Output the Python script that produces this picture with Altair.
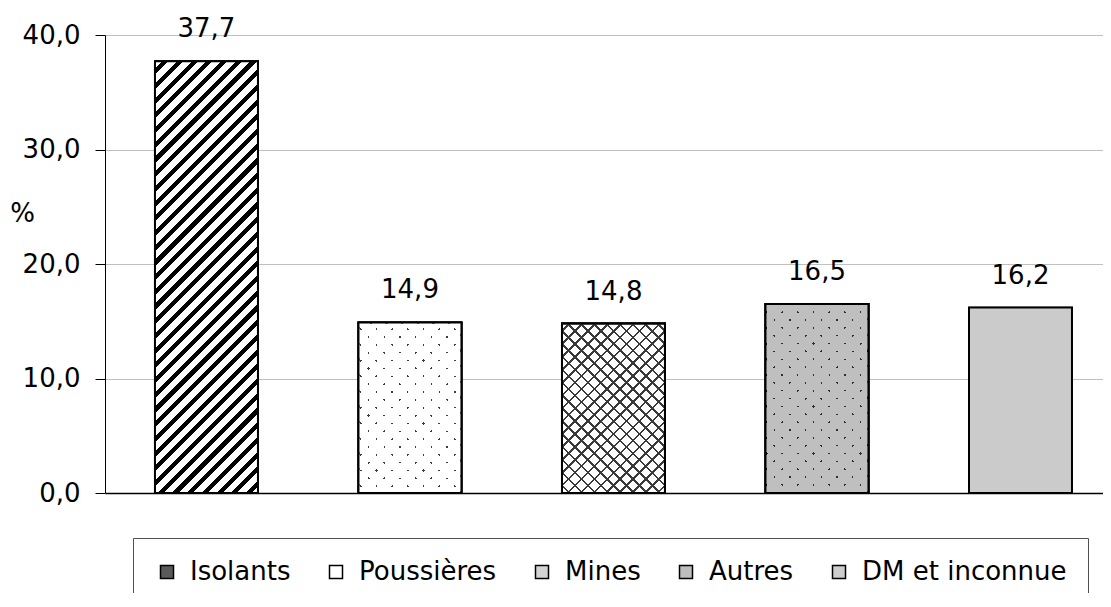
import math
import altair as alt
import pandas as pd

# ---- data ----
categories = ["Isolants", "Poussières", "Mines", "Autres", "DM et inconnue"]
values = [37.7, 14.9, 14.8, 16.5, 16.2]
tick_values = [0, 10, 20, 30, 40]

# ---- style / layout ----
FONT = "DejaVu Sans"
FS = 26
PLOT_W, PLOT_H = 998, 458
Y_MAX = 40
P_INNER, P_OUTER, ALIGN = 0.494, 0.199, 0.617
legend_colors = ["#5a5a5a", "#ffffff", "#d4d4d4", "#bdbdbd", "#cdcdcd"]
base_colors = ["#5a5a5a", "#3c3c3c", "#d4d4d4", "#2e2e2e", "#cbcbcb"]
CLEAR = "rgba(255,255,255,0)"

step = PLOT_W / (len(categories) - P_INNER + 2 * P_OUTER)
bar_w = step * (1 - P_INNER)


def stripes(w, h, period, frac, line_color, bg, direction):
    a = (w + h) / (w * w + h * h)
    n = ((w + h) / math.sqrt(2)) / period
    stops = [{"offset": 0, "color": bg}]
    k = 0.5
    while k < n:
        s = k / n
        e = min((k + frac) / n, 1.0)
        stops += [
            {"offset": s, "color": bg},
            {"offset": s, "color": line_color},
            {"offset": e, "color": line_color},
            {"offset": e, "color": bg},
        ]
        k += 1
    stops.append({"offset": 1, "color": bg})
    if direction == "/":
        g = {"x1": 0, "y1": 0, "x2": a * w, "y2": a * h}
    else:
        g = {"x1": 0, "y1": 1, "x2": a * w, "y2": 1 - a * h}
    g.update({"gradient": "linear", "stops": stops})
    return g


def h_of(cat):
    return values[categories.index(cat)] * PLOT_H / Y_MAX


df = pd.DataFrame({
    "cat": categories,
    "val": values,
    "lab": [f"{v:.1f}".replace(".", ",") for v in values],
})

xscale = alt.Scale(domain=categories, paddingInner=P_INNER,
                   paddingOuter=P_OUTER, align=ALIGN)
yscale = alt.Scale(domain=[0, Y_MAX], nice=False)

base = alt.Chart(df).encode(
    x=alt.X("cat:N", scale=xscale, sort=categories,
            axis=alt.Axis(labels=False, ticks=False, title=None, grid=False,
                          domainColor="black", domainWidth=1.5)),
    y=alt.Y("val:Q", scale=yscale,
            axis=alt.Axis(values=tick_values,
                          labelExpr="replace(format(datum.value, '.1f'), '.', ',')",
                          title="%", titleAngle=0, titleX=-83, titleY=178,
                          titleAlign="center", titleBaseline="middle",
                          titleFontSize=FS, titleFontWeight="normal",
                          titleFont=FONT, titleColor="black",
                          labelFontSize=FS, labelFont=FONT, labelColor="black",
                          labelPadding=15, tickSize=10, tickColor="black",
                          domainColor="black", gridColor="#c0c0c0")),
)

# layer that provides the legend
legend_layer = base.mark_bar(stroke="black", strokeWidth=1.5).encode(
    fill=alt.Fill("cat:N",
                  scale=alt.Scale(domain=categories, range=legend_colors),
                  legend=alt.Legend(title=None, orient="none", direction="horizontal",
                                    legendX=28, legendY=503,
                                    symbolType="square", symbolSize=169,
                                    symbolStrokeColor="black", symbolStrokeWidth=1.5,
                                    labelFontSize=FS, labelFont=FONT, labelColor="black",
                                    labelOffset=10, columnPadding=32,
                                    padding=21, strokeColor="#505050",
                                    fillColor="white", labelLimit=400))
)

# base fills (dot colour under dotted bars)
under = base.mark_bar(stroke="black", strokeWidth=2).encode(
    fill=alt.Fill("cat:N", scale=alt.Scale(domain=categories, range=base_colors),
                  legend=None)
)


def one(cat):
    return base.transform_filter(alt.datum.cat == cat)


iso = one("Isolants").mark_bar(
    fill=stripes(bar_w, h_of("Isolants"), 10.4, 0.42, "#000000", "#ffffff", "/"),
    stroke="black", strokeWidth=2)

mines1 = one("Mines").mark_bar(
    fill=stripes(bar_w, h_of("Mines"), 9.1, 0.2, "#3a3a3a", "#ffffff", "/"),
    stroke="black", strokeWidth=2)
mines2 = one("Mines").mark_bar(
    fill=stripes(bar_w, h_of("Mines"), 9.1, 0.2, "#3a3a3a", CLEAR, "\\"),
    stroke="black", strokeWidth=2)

# dotted bars: covering colour everywhere except at the crossings of two gap families
pous1 = one("Poussières").mark_bar(
    fill=stripes(bar_w, h_of("Poussières"), 11.1, 0.15, CLEAR, "#ffffff", "/"),
    stroke="black", strokeWidth=2)
pous2 = one("Poussières").mark_bar(
    fill=stripes(bar_w, h_of("Poussières"), 11.1, 0.15, CLEAR, "#ffffff", "\\"),
    stroke="black", strokeWidth=2)
aut1 = one("Autres").mark_bar(
    fill=stripes(bar_w, h_of("Autres"), 11.1, 0.15, CLEAR, "#bfbfbf", "/"),
    stroke="black", strokeWidth=2)
aut2 = one("Autres").mark_bar(
    fill=stripes(bar_w, h_of("Autres"), 11.1, 0.15, CLEAR, "#bfbfbf", "\\"),
    stroke="black", strokeWidth=2)

labels = base.mark_text(dy=-24, baseline="alphabetic", align="center",
                        fontSize=FS, font=FONT, color="black").encode(text="lab:N")

chart = alt.layer(legend_layer, under, iso, mines1, mines2, pous1, pous2,
                  aut1, aut2, labels).resolve_scale(fill="independent").properties(
    width=PLOT_W, height=PLOT_H,
    padding={"left": 97, "top": 27, "right": 0, "bottom": 100},
    autosize=alt.AutoSizeParams(type="none"),
    background="white",
).configure_view(stroke=None).configure(font=FONT)

chart.save("out.html", embed_options={"renderer": "svg", "actions": False})
